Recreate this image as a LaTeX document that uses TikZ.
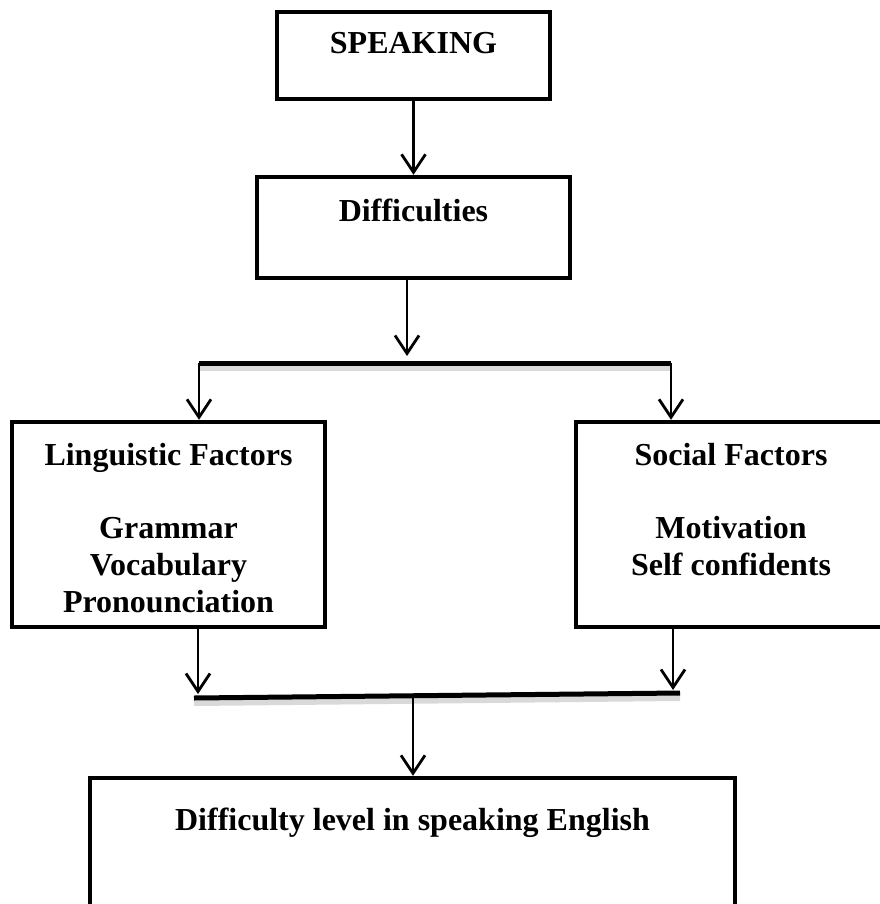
\documentclass[tikz,border=0pt]{standalone}
\usepackage{fontspec}
\setmainfont{Liberation Serif}
\usetikzlibrary{arrows.meta, positioning}

\begin{document}
\begin{tikzpicture}[x=0.5pt, y=-0.5pt, >={Straight Barb[length=9pt, width=12pt]},
	box/.style={draw, rectangle, line width=2.2pt, inner sep=0pt},
	boxtext/.style={inner sep=0pt, align=center, font=\fontsize{16}{18.5}\selectfont\bfseries},
	link/.style={->, line width=1.4pt},
	bar/.style={line width=2.5pt},
	barshade/.style={line width=4pt, black!15}]
	
	\useasboundingbox (0,0) rectangle (879,904);
	
	% Boxes
	\node [box, minimum width=136.5pt, minimum height=43.5pt] (speaking) at (413.5,55.5) {};
	\node [box, minimum width=156.5pt, minimum height=50.5pt] (difficulties) at (413.5,227.5) {};
	\node [box, minimum width=156.5pt, minimum height=102.5pt] (linguistic) at (168.5,524.5) {};
	\node [box, minimum width=155pt, minimum height=102.5pt] (social) at (731,524.5) {};
	\node [box, minimum width=322.5pt, minimum height=81pt] (level) at (412.5,859) {};
	
	% Texts
	\node [boxtext, below=11pt of speaking.north] (speakingtext) {SPEAKING};
	\node [boxtext, below=12pt of difficulties.north] (difficultiestext) {Difficulties};
	\node [boxtext, below=11.5pt of linguistic.north] (linguistictext) {Linguistic Factors\\[18pt]Grammar\\Vocabulary\\Pronounciation};
	\node [boxtext, below=11.5pt of social.north] (socialtext) {Social Factors\\[18pt]Motivation\\Self confidents};
	\node [boxtext, below=16pt of level.north] (leveltext) {Difficulty level in speaking English};
	
	% Split and join points
	\coordinate (splitM) at (407,356);
	\coordinate (splitL) at (199,363);
	\coordinate (splitR) at (671,363);
	\coordinate (joinLin) at (198,694);
	\coordinate (joinRin) at (673,690);
	\coordinate (joinL) at (194,698);
	\coordinate (joinR) at (680,693);
	\coordinate (joinM) at (413,697);
	
	% Bars
	\draw [barshade] ([yshift=-2pt]splitL) -- ([yshift=-2pt]splitR);
	\draw [bar] (splitL) -- (splitR);
	\draw [barshade] ([yshift=-2pt]joinL) -- ([yshift=-2pt]joinR);
	\draw [bar] (joinL) -- (joinR);
	
	% Arrows
	\draw [link] (speaking) -- (difficulties);
	\draw [link] (difficulties.south -| splitM) -- (splitM);
	\draw [link] (splitL) -- (splitL |- linguistic.north);
	\draw [link] (splitR) -- (splitR |- social.north);
	\draw [link] (linguistic.south -| joinLin) -- (joinLin);
	\draw [link] (social.south -| joinRin) -- (joinRin);
	\draw [link] (joinM) -- (joinM |- level.north);
	
\end{tikzpicture}
\end{document}
